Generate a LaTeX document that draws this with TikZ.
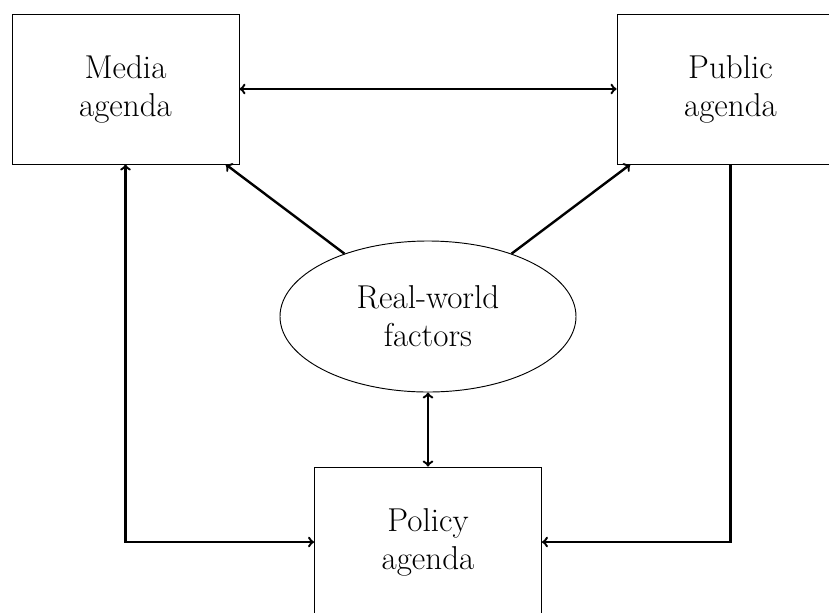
\documentclass[tikz,border=0pt]{standalone}
\usetikzlibrary{shapes.geometric}
\begin{document}
\begin{tikzpicture}[x=0.75pt,y=-0.75pt,
  txt/.style={font=\fontsize{24.8}{28.5}\selectfont},
  box/.style={draw, line width=0.7pt, rectangle, minimum width=170.25pt, minimum height=112.5pt, align=center, inner sep=0pt, txt},
  ell/.style={draw, line width=0.7pt, ellipse, minimum width=222pt, minimum height=113.25pt, align=center, inner sep=0pt, txt},
  conn/.style={line width=1.8pt}]
\useasboundingbox (0,0) rectangle (829,612);
\clip (0,0) rectangle (829,612);
\node[box] (media) at (125.5,89) {Media\\agenda};
\node[box] (public) at (730.5,89) {Public\\agenda};
\node[box] (policy) at (428,542) {Policy\\agenda};
\node[ell] (real) at (428,316.5) {Real-world\\factors};
\draw[conn,<->] (media) -- (public);
\draw[conn,->] (real) -- (media);
\draw[conn,->] (real) -- (public);
\draw[conn,<->] (real.south) -- (policy.north);
\draw[conn,<->] (media.south) |- (policy.west);
\draw[conn,->] (public.south) |- (policy.east);
\end{tikzpicture}
\end{document}
